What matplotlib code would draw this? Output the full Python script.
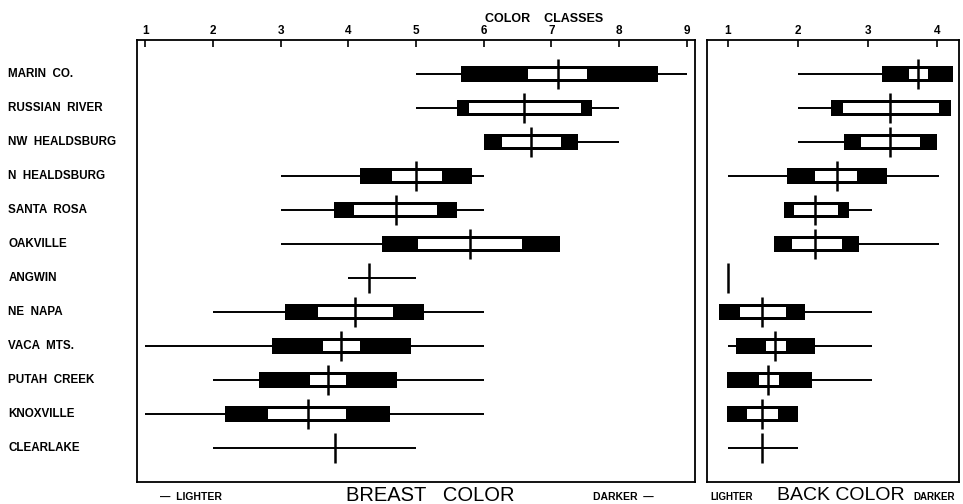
import matplotlib.pyplot as plt

# Populations, top to bottom
sites = ['MARIN  CO.', 'RUSSIAN  RIVER', 'NW  HEALDSBURG', 'N  HEALDSBURG',
         'SANTA  ROSA', 'OAKVILLE', 'ANGWIN', 'NE  NAPA', 'VACA  MTS.',
         'PUTAH  CREEK', 'KNOXVILLE', 'CLEARLAKE']

# Breast colour: range, outer (black) box, inner (white) box, mean
breast_lo    = [5.0, 5.0, 6.0, 3.0, 3.0, 3.0, 4.0, 2.0, 1.0, 2.0, 1.0, 2.0]
breast_hi    = [9.0, 8.0, 8.0, 6.0, 6.0, 7.12, 5.0, 6.0, 6.0, 6.0, 6.0, 5.0]
breast_box0  = [5.66, 5.6, 6.01, 4.17, 3.79, 4.5, None, 3.07, 2.87, 2.68, 2.18, None]
breast_box1  = [8.57, 7.6, 7.39, 5.83, 5.6, 7.12, None, 5.12, 4.92, 4.72, 4.62, None]
breast_in0   = [6.66, 5.78, 6.27, 4.64, 4.09, 5.03, None, 3.55, 3.62, 3.43, 2.82, None]
breast_in1   = [7.53, 7.43, 7.14, 5.38, 5.31, 6.56, None, 4.66, 4.18, 3.96, 3.97, None]
breast_mean  = [7.1, 6.6, 6.7, 5.0, 4.71, 5.8, 4.3, 4.1, 3.89, 3.7, 3.4, 3.8]

# Back colour
back_lo   = [2.0, 2.0, 2.0, 1.0, 1.8, 1.66, None, 0.87, 1.0, 0.99, 0.99, 1.0]
back_hi   = [4.22, 4.19, 4.0, 4.02, 3.06, 4.02, None, 3.06, 3.06, 3.06, 2.01, 2.0]
back_box0 = [3.21, 2.47, 2.66, 1.84, 1.80, 1.66, None, 0.87, 1.12, 0.99, 0.99, None]
back_box1 = [4.22, 4.19, 4.0, 3.28, 2.74, 2.87, None, 2.10, 2.25, 2.2, 2.01, None]
back_in0  = [3.59, 2.65, 2.91, 2.24, 1.95, 1.91, None, 1.17, 1.55, 1.45, 1.27, None]
back_in1  = [3.86, 4.02, 3.75, 2.85, 2.58, 2.63, None, 1.83, 1.83, 1.73, 1.71, None]
back_mean = [3.72, 3.32, 3.32, 2.56, 2.25, 2.25, 1.0, 1.49, 1.68, 1.58, 1.49, 1.49]

plt.rcParams['font.family'] = ['Liberation Sans', 'DejaVu Sans']

fig = plt.figure(figsize=(9.63, 5.04), dpi=100)
ax1 = fig.add_axes([0.1423, 0.0437, 0.5794, 0.877])
ax2 = fig.add_axes([0.7342, 0.0437, 0.2617, 0.877])


def draw_panel(ax, lo, hi, b0, b1, i0, i1, mean):
    for i in range(len(mean)):
        if lo[i] is not None:
            ax.hlines(i, lo[i], hi[i], color='black', lw=1.4, zorder=1)
        if b0[i] is not None:
            ax.barh(i, b1[i] - b0[i], left=b0[i], height=0.46,
                    color='black', zorder=2)
            ax.barh(i, i1[i] - i0[i], left=i0[i], height=0.28,
                    color='white', zorder=3)
        ax.vlines(mean[i], i - 0.43, i + 0.43, color='black', lw=1.8, zorder=4)
    ax.set_ylim(12, -1)
    ax.set_yticks([])
    ax.xaxis.tick_top()
    ax.tick_params(axis='x', direction='in', length=5, width=1.2,
                   labelsize=8.5, pad=2)
    for sp in ax.spines.values():
        sp.set_linewidth(1.3)


draw_panel(ax1, breast_lo, breast_hi, breast_box0, breast_box1,
           breast_in0, breast_in1, breast_mean)
ax1.set_xlim(0.88, 9.12)
ax1.set_xticks(range(1, 10))
for lab in ax1.get_xticklabels():
    lab.set_fontweight('bold')

draw_panel(ax2, back_lo, back_hi, back_box0, back_box1,
           back_in0, back_in1, back_mean)
ax2.set_xlim(0.70, 4.31)
ax2.set_xticks(range(1, 5))
for lab in ax2.get_xticklabels():
    lab.set_fontweight('bold')

# Row labels to the left of the breast panel
for i, name in enumerate(sites):
    ax1.annotate(name, xy=(0, i), xycoords=('figure fraction', 'data'),
                 xytext=(6, 0), textcoords='offset points',
                 ha='left', va='center', fontsize=8.4, fontweight='bold')

fig.text(0.565, 0.963, 'COLOR    CLASSES', ha='center', va='center',
         fontsize=9, fontweight='bold')

# Bottom captions
fig.text(0.166, 0.013, '—  LIGHTER', ha='left', va='center',
         fontsize=7.5, fontweight='bold')
fig.text(0.447, 0.017, 'BREAST   COLOR', ha='center', va='center',
         fontsize=14.5, fontweight='light')
fig.text(0.616, 0.013, 'DARKER  —', ha='left', va='center',
         fontsize=7.5, fontweight='bold')
fig.text(0.738, 0.013, 'LIGHTER', ha='left', va='center',
         fontsize=7, fontweight='bold')
fig.text(0.873, 0.017, 'BACK COLOR', ha='center', va='center',
         fontsize=14, fontweight='light')
fig.text(0.992, 0.013, 'DARKER', ha='right', va='center',
         fontsize=7, fontweight='bold')

fig.savefig('out.png', dpi=100)
